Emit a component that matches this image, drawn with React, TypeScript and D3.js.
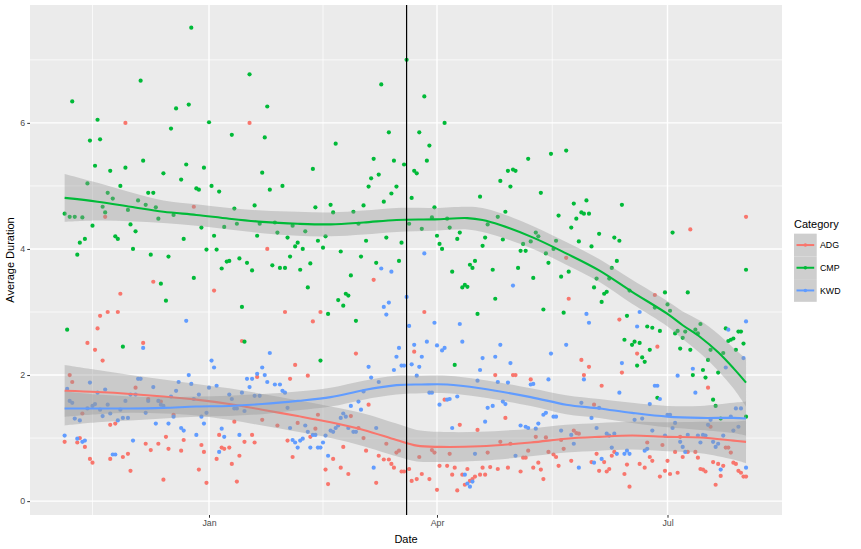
import React, { useEffect, useRef } from "react";
import * as d3 from "d3";

// day 0 = 1 Nov 2016
const baseDate = Date.UTC(2016, 10, 1);
const categories = ["ADG", "CMP", "KWD"];
const colors = ["#F8766D", "#00BA38", "#619CFF"];

// [day since baseDate, average duration]
const adgPoints: [number, number][] = [
  [4,0.94],[6,2.00],[7,1.89],[9,0.93],[10,1.00],[11,1.39],[12,0.86],[13,2.51],[14,0.67],[15,0.61],[16,2.40],[17,2.74],
  [18,2.94],[19,2.23],[20,4.51],[21,3.00],[22,1.21],[22,0.67],[24,1.23],[25,3.00],[26,3.29],[27,0.70],[28,6.00],[29,0.75],
  [30,0.48],[32,1.80],[35,2.51],[36,0.91],[37,1.62],[38,0.81],[39,3.48],[41,0.91],[42,1.58],[43,0.34],[44,1.02],[45,0.83],
  [47,1.37],[50,0.80],[51,0.97],[55,4.67],[57,0.50],[58,0.89],[59,0.78],[60,0.29],[63,3.34],[64,0.67],[65,1.05],[66,0.85],
  [67,0.83],[69,0.85],[70,0.59],[71,1.26],[72,0.31],[73,0.72],[74,2.54],[75,0.94],[77,6.00],[78,1.05],[79,0.93],[80,1.97],
  [82,1.29],[84,4.00],[88,1.20],[91,3.00],[92,0.96],[93,1.94],[94,0.70],[95,2.16],[96,1.24],[100,1.99],[101,1.02],[102,2.85],
  [103,1.15],[104,1.37],[105,3.00],[107,0.50],[108,0.27],[110,0.67],[113,0.53],[114,0.86],[116,0.43],[117,1.35],[119,2.34],
  [120,1.16],[122,1.00],[123,0.80],[124,1.53],[126,3.51],[127,0.29],[128,0.72],[130,0.66],[131,0.91],[132,0.66],[133,0.59],
  [134,0.53],[135,0.77],[136,0.80],[137,0.47],[138,0.47],[140,0.51],[141,0.32],[142,2.37],[143,0.35],[144,0.70],[145,0.43],
  [146,3.00],[148,0.35],[149,0.81],[150,0.77],[151,0.18],[152,0.56],[154,1.61],[155,0.56],[156,0.75],[157,0.42],[158,0.53],
  [159,0.17],[160,1.21],[161,0.42],[162,0.26],[163,0.51],[164,0.32],[165,0.35],[166,0.39],[167,1.13],[168,0.42],[169,0.53],
  [170,0.42],[171,0.77],[172,0.54],[174,2.00],[175,0.51],[176,0.94],[178,1.32],[179,0.53],[180,0.91],[181,2.00],[182,2.00],
  [184,0.47],[185,0.69],[186,0.69],[187,0.80],[188,1.93],[189,0.53],[190,1.02],[191,0.61],[192,0.50],[193,0.35],[194,1.01],
  [195,0.78],[197,0.74],[198,0.70],[199,0.56],[200,0.97],[201,0.83],[202,3.86],[203,3.21],[204,0.64],[205,1.12],[206,1.08],
  [207,1.07],[208,2.24],[209,2.00],[211,2.13],[212,0.62],[213,1.53],[214,0.75],[215,0.48],[216,1.83],[217,0.62],[218,0.47],
  [219,0.51],[220,0.72],[221,0.78],[223,2.88],[224,2.04],[225,0.43],[226,0.58],[227,0.23],[230,2.34],[231,0.59],[233,0.53],
  [234,0.93],[235,0.70],[236,0.64],[237,3.27],[238,2.45],[239,0.39],[240,0.89],[241,0.48],[242,0.64],[243,0.43],[245,0.78],
  [246,0.45],[247,1.02],[248,0.70],[250,0.78],[251,4.31],[253,0.78],[254,0.69],[255,0.51],[256,0.50],[257,0.47],[258,1.80],
  [259,1.18],[260,0.62],[261,0.26],[262,0.59],[263,0.40],[264,0.56],[265,0.85],[266,0.85],[267,0.77],[268,0.61],[269,0.59],
  [270,0.48],[271,0.45],[272,0.39],[273,0.39],[273,4.51],
];

const cmpPoints: [number, number][] = [
  [4,4.56],[5,2.72],[6,4.51],[7,6.34],[8,4.51],[9,3.91],[10,4.10],[11,4.50],[12,4.16],[13,5.04],[14,5.72],[15,4.37],
  [16,5.32],[17,6.05],[18,5.74],[19,4.67],[20,4.58],[21,4.89],[22,5.24],[23,4.80],[24,4.20],[25,4.16],[26,5.00],[27,2.45],
  [28,5.29],[29,4.62],[30,4.39],[31,4.00],[32,4.28],[33,4.77],[34,6.67],[35,5.40],[36,4.70],[37,4.89],[38,3.91],[39,4.89],
  [40,4.66],[41,4.48],[42,3.45],[43,5.20],[44,3.18],[45,3.88],[46,5.91],[47,4.54],[48,6.23],[50,5.10],[51,4.16],[52,5.34],
  [53,6.29],[54,7.51],[55,3.54],[56,4.96],[57,4.94],[58,4.34],[59,5.29],[60,3.99],[61,6.01],[62,5.00],[63,4.21],[64,3.99],
  [65,4.91],[66,3.69],[67,4.35],[68,3.80],[69,3.81],[70,5.81],[71,4.64],[72,4.40],[73,3.85],[74,3.08],[75,2.53],[76,3.78],
  [77,6.77],[78,3.66],[79,4.69],[80,4.21],[81,4.40],[82,5.21],[83,5.77],[84,6.26],[85,4.94],[86,3.74],[87,4.42],[88,4.26],
  [89,3.70],[90,5.00],[91,3.70],[92,4.18],[93,3.88],[94,4.37],[95,4.04],[96,4.10],[97,3.67],[98,4.00],[99,4.28],[100,3.39],
  [101,3.77],[102,5.27],[103,4.66],[104,4.13],[105,2.23],[106,4.02],[107,4.20],[108,2.97],[109,4.70],[110,4.58],[111,5.67],
  [112,3.19],[113,3.96],[114,3.10],[115,3.29],[116,3.26],[117,3.58],[118,4.59],[119,2.86],[120,4.40],[121,3.88],[122,4.69],
  [123,4.13],[124,4.99],[125,5.12],[126,5.43],[127,3.78],[128,5.18],[129,6.61],[130,4.75],[131,4.18],[132,5.85],[133,4.88],
  [134,5.40],[135,4.99],[136,3.81],[137,4.10],[138,5.34],[139,7.00],[140,4.40],[141,4.81],[142,5.24],[143,5.20],[144,5.85],
  [145,4.32],[146,6.42],[147,5.40],[148,5.64],[149,4.50],[150,4.66],[151,4.21],[152,4.08],[153,4.00],[154,6.00],[155,4.48],
  [156,4.34],[157,3.64],[158,2.16],[159,4.16],[160,4.26],[161,3.39],[162,3.43],[163,3.40],[164,3.75],[165,3.70],[166,3.81],
  [167,2.97],[168,4.83],[169,4.05],[170,4.18],[171,4.39],[173,3.67],[174,3.21],[175,4.51],[176,5.08],[177,4.15],[178,4.59],
  [179,5.24],[180,4.99],[181,5.26],[182,5.24],[183,3.70],[184,3.97],[185,4.08],[186,3.97],[187,5.43],[188,4.12],[189,3.54],
  [190,4.26],[191,4.20],[192,4.89],[193,3.04],[194,3.93],[195,3.78],[196,5.51],[197,4.00],[198,4.13],[199,4.53],[200,3.56],
  [201,2.99],[202,5.56],[203,3.64],[204,4.34],[205,4.72],[206,4.48],[207,4.12],[208,4.58],[209,4.56],[210,4.77],[211,4.56],
  [212,4.04],[213,3.39],[214,3.53],[215,4.24],[216,3.16],[217,3.29],[218,3.32],[219,3.53],[220,3.70],[221,4.18],[222,3.81],
  [223,4.13],[224,4.70],[225,2.56],[226,2.94],[227,3.34],[228,2.48],[229,2.53],[230,2.15],[231,2.51],[232,2.28],[233,2.21],
  [234,2.77],[235,2.40],[236,2.75],[237,3.07],[238,1.64],[239,2.70],[241,3.31],[242,3.12],[243,3.02],[244,4.26],[245,2.66],
  [246,2.70],[247,2.42],[248,2.59],[249,2.69],[250,3.31],[251,2.40],[252,2.00],[253,2.72],[254,2.66],[255,2.81],[256,2.08],
  [257,1.96],[258,2.24],[259,2.40],[260,1.61],[261,1.51],[262,2.04],[263,1.31],[264,2.35],[265,2.74],[266,2.54],[267,2.56],
  [268,2.58],[269,2.40],[270,2.69],[271,2.69],[272,2.50],[273,3.67],[273,1.34],
];

const kwdPoints: [number, number][] = [
  [4,1.04],[5,1.78],[6,1.59],[7,1.56],[8,1.31],[9,0.99],[10,1.28],[11,0.94],[12,0.96],[13,1.47],[14,1.88],[15,1.51],
  [16,1.54],[17,1.72],[18,1.45],[19,1.35],[20,1.77],[21,1.53],[22,1.39],[23,0.74],[24,0.74],[25,1.28],[26,1.45],[27,1.32],
  [28,1.59],[29,1.32],[30,1.69],[31,0.96],[32,1.69],[33,1.94],[34,1.94],[35,2.43],[36,1.40],[37,1.59],[39,1.81],[40,1.23],
  [41,1.59],[42,1.53],[43,1.51],[45,1.23],[46,1.66],[47,1.34],[48,1.75],[49,1.89],[50,1.16],[51,1.12],[52,2.86],[53,2.00],
  [54,1.86],[55,1.62],[56,1.05],[57,1.69],[58,1.34],[59,1.23],[60,1.40],[61,1.80],[62,2.23],[63,2.12],[64,1.83],[65,0.78],
  [66,1.15],[67,1.02],[69,1.69],[70,1.62],[71,1.47],[72,1.47],[73,1.05],[74,1.72],[75,1.43],[76,1.94],[77,1.81],[78,1.94],
  [79,1.67],[80,2.02],[81,1.67],[82,2.12],[83,2.00],[84,1.89],[85,2.35],[87,1.85],[89,1.85],[90,1.75],[91,1.72],[92,1.48],
  [93,1.16],[94,0.97],[95,0.93],[96,0.85],[97,0.96],[98,0.99],[99,1.20],[100,1.10],[101,0.85],[102,1.05],[103,1.05],
  [104,0.85],[105,0.85],[106,0.93],[107,1.04],[108,0.72],[109,1.12],[110,1.10],[111,1.16],[112,1.20],[113,1.32],[114,1.39],
  [115,1.34],[116,1.16],[117,1.51],[118,1.10],[119,1.10],[120,1.58],[121,1.45],[122,1.74],[124,2.13],[125,1.96],[126,0.53],
  [127,1.16],[128,1.89],[129,3.69],[130,3.08],[131,2.96],[132,3.15],[133,3.64],[134,2.08],[135,2.29],[136,2.43],[137,2.15],
  [138,2.15],[139,3.24],[140,2.78],[141,2.17],[142,2.48],[143,1.99],[144,2.13],[145,2.29],[146,3.93],[147,2.53],[148,1.72],
  [149,1.72],[150,2.83],[151,2.47],[152,1.53],[153,2.39],[154,2.43],[155,1.61],[156,1.62],[157,1.16],[159,1.66],[160,2.81],
  [161,2.53],[162,0.42],[163,0.28],[164,0.23],[165,0.31],[166,0.75],[167,1.91],[168,2.08],[169,2.27],[170,1.26],[171,1.48],
  [173,1.51],[174,2.29],[175,1.89],[176,2.48],[177,1.58],[178,1.54],[179,1.88],[180,2.19],[181,3.42],[182,0.72],[184,1.20],
  [186,1.18],[187,1.16],[188,1.85],[189,1.86],[190,1.15],[191,1.23],[193,1.37],[194,1.40],[195,1.93],[196,2.34],[197,1.34],
  [198,1.34],[200,1.12],[202,2.48],[204,1.05],[205,0.91],[207,0.53],[208,1.56],[209,1.93],[210,2.97],[211,2.83],[212,1.32],
  [213,0.61],[214,1.16],[215,1.48],[216,0.67],[218,1.07],[219,1.04],[220,0.85],[221,1.07],[222,0.75],[223,1.72],[224,2.19],
  [225,0.75],[226,0.80],[227,0.75],[229,1.29],[230,2.77],[231,3.00],[232,1.31],[233,0.80],[234,0.83],[235,1.54],[236,1.12],
  [237,1.83],[238,1.83],[239,1.62],[241,1.04],[242,1.37],[243,1.37],[244,1.16],[245,1.24],[246,1.99],[247,0.94],[248,0.86],
  [249,0.78],[250,1.05],[252,2.10],[253,1.72],[254,1.04],[255,0.93],[256,1.05],[257,1.04],[258,1.21],[259,1.29],[260,0.94],
  [261,0.86],[262,0.91],[263,0.50],[264,1.04],[265,2.12],[266,2.72],[267,1.34],[268,1.12],[269,1.47],[270,1.18],[271,1.47],
  [272,2.27],[273,2.85],[273,0.53],
];

// loess fit: [day, fit, half width of the band]
const adgSmooth: [number, number, number][] = [
  [4,1.75,0.41],[17,1.73,0.35],[30,1.70,0.30],[43,1.66,0.27],[56,1.61,0.25],[69,1.54,0.25],[82,1.45,0.25],[96,1.35,0.25],
  [109,1.25,0.25],[122,1.13,0.26],[135,0.97,0.26],[143,0.88,0.25],[152,0.86,0.24],[168,0.87,0.23],[188,0.93,0.22],
  [202,0.99,0.22],[215,1.02,0.22],[228,1.04,0.22],[242,1.02,0.23],[255,1.01,0.25],[268,0.96,0.30],[273,0.94,0.34],
];
const cmpSmooth: [number, number, number][] = [
  [4,4.81,0.38],[17,4.75,0.30],[30,4.67,0.23],[43,4.59,0.18],[56,4.54,0.17],[69,4.48,0.17],[82,4.43,0.18],[96,4.40,0.19],
  [109,4.39,0.19],[122,4.42,0.19],[135,4.46,0.19],[150,4.47,0.18],[163,4.49,0.18],[169,4.46,0.19],[176,4.38,0.19],
  [189,4.18,0.18],[202,3.93,0.18],[215,3.66,0.18],[228,3.32,0.19],[242,2.97,0.20],[248,2.79,0.22],[255,2.60,0.26],
  [262,2.36,0.29],[268,2.11,0.32],[273,1.88,0.38],
];
const kwdSmooth: [number, number, number][] = [
  [4,1.47,0.27],[17,1.47,0.22],[30,1.47,0.19],[43,1.48,0.17],[56,1.50,0.16],[69,1.51,0.16],[82,1.54,0.16],[96,1.59,0.15],
  [109,1.65,0.15],[122,1.76,0.15],[135,1.84,0.15],[145,1.85,0.14],[155,1.85,0.14],[168,1.79,0.14],[188,1.65,0.14],
  [202,1.53,0.15],[215,1.47,0.15],[228,1.40,0.16],[242,1.34,0.17],[255,1.32,0.19],[268,1.32,0.24],[273,1.31,0.27],
];

const xBreaks = ["2016-10-01", "2017-01-01", "2017-04-01", "2017-07-01", "2017-10-01"];
const xTickLabels = ["Jan", "Apr", "Jul"];
const yTicks = [0, 2, 4, 6];
const yMinor = [1, 3, 5, 7];
const markerDate = "2017-03-20";
const xDomainDays = [-9.67, 287.2];
const yDomain = [-0.22, 7.87];

const FONT = "'Liberation Sans', Arial, Helvetica, sans-serif";

export default function App() {
  const ref = useRef<SVGSVGElement>(null);

  useEffect(() => {
    const svg = d3.select(ref.current);
    svg.selectAll("*").remove();

    const panel = { left: 30, right: 782, top: 5, bottom: 515 };
    const toDate = (d: number) => new Date(baseDate + d * 864e5);
    const parse = (s: string) => new Date(s + "T00:00:00Z");

    const x = d3.scaleUtc().domain(xDomainDays.map(toDate)).range([panel.left, panel.right]);
    const y = d3.scaleLinear().domain(yDomain).range([panel.bottom, panel.top]);

    // panel background
    svg.append("rect")
      .attr("x", panel.left).attr("y", panel.top)
      .attr("width", panel.right - panel.left).attr("height", panel.bottom - panel.top)
      .attr("fill", "#EBEBEB");

    const breakDates = xBreaks.map(parse);
    const inDomain = (d: Date) => d >= x.domain()[0] && d <= x.domain()[1];
    const xMajor = breakDates.filter(inDomain);
    const xMinor = d3.pairs(breakDates).map(([a, b]) => new Date((+a + +b) / 2)).filter(inDomain);

    const grid = svg.append("g").attr("stroke", "#FFFFFF");
    // minor grid
    grid.selectAll(".ymin").data(yMinor).enter().append("line")
      .attr("x1", panel.left).attr("x2", panel.right)
      .attr("y1", d => y(d)).attr("y2", d => y(d)).attr("stroke-width", 0.7);
    grid.selectAll(".xmin").data(xMinor).enter().append("line")
      .attr("y1", panel.top).attr("y2", panel.bottom)
      .attr("x1", d => x(d)).attr("x2", d => x(d)).attr("stroke-width", 0.7);
    // major grid
    grid.selectAll(".ymaj").data(yTicks).enter().append("line")
      .attr("x1", panel.left).attr("x2", panel.right)
      .attr("y1", d => y(d)).attr("y2", d => y(d)).attr("stroke-width", 1.4);
    grid.selectAll(".xmaj").data(xMajor).enter().append("line")
      .attr("y1", panel.top).attr("y2", panel.bottom)
      .attr("x1", d => x(d)).attr("x2", d => x(d)).attr("stroke-width", 1.4);

    // points
    const pointSets = [adgPoints, cmpPoints, kwdPoints];
    pointSets.forEach((pts, i) => {
      svg.append("g").selectAll("circle").data(pts).enter().append("circle")
        .attr("cx", d => x(toDate(d[0])))
        .attr("cy", d => y(d[1]))
        .attr("r", 2.1)
        .attr("fill", colors[i]);
    });

    // smooths: ribbon then line, one group after the other
    const smoothSets = [adgSmooth, cmpSmooth, kwdSmooth];
    const band = d3.area<[number, number, number]>()
      .x(d => x(toDate(d[0])))
      .y0(d => y(d[1] - d[2]))
      .y1(d => y(d[1] + d[2]))
      .curve(d3.curveCatmullRom.alpha(0.5));
    const fit = d3.line<[number, number, number]>()
      .x(d => x(toDate(d[0])))
      .y(d => y(d[1]))
      .curve(d3.curveCatmullRom.alpha(0.5));
    smoothSets.forEach((s, i) => {
      svg.append("path").datum(s).attr("d", band).attr("fill", "#999999").attr("fill-opacity", 0.4);
      svg.append("path").datum(s).attr("d", fit).attr("fill", "none")
        .attr("stroke", colors[i]).attr("stroke-width", 2.1);
    });

    // vertical marker
    const mx = x(parse(markerDate));
    svg.append("line")
      .attr("x1", mx).attr("x2", mx).attr("y1", panel.top).attr("y2", panel.bottom)
      .attr("stroke", "#000000").attr("stroke-width", 1.2);

    // axes
    const yAxis = svg.append("g")
      .attr("transform", `translate(${panel.left},0)`)
      .call(d3.axisLeft(y).tickValues(yTicks).tickSize(2.75).tickPadding(2.2).tickFormat(d3.format("d")));
    const xAxis = svg.append("g")
      .attr("transform", `translate(0,${panel.bottom})`)
      .call(d3.axisBottom(x).tickValues(xMajor).tickSize(2.75).tickPadding(2.2)
        .tickFormat((_d, i) => xTickLabels[i]));
    [yAxis, xAxis].forEach(a => {
      a.select(".domain").remove();
      a.attr("font-family", FONT).attr("font-size", 8.8);
      a.selectAll("line").attr("stroke", "#333333").attr("stroke-width", 1);
      a.selectAll("text").attr("fill", "#4D4D4D");
    });

    // titles
    svg.append("text")
      .attr("x", (panel.left + panel.right) / 2).attr("y", 543)
      .attr("text-anchor", "middle").attr("font-family", FONT).attr("font-size", 11)
      .text("Date");
    svg.append("text")
      .attr("transform", `translate(14,${(panel.top + panel.bottom) / 2}) rotate(-90)`)
      .attr("text-anchor", "middle").attr("font-family", FONT).attr("font-size", 11)
      .text("Average Duration");

    // legend
    const legend = svg.append("g").attr("transform", "translate(794,228)");
    legend.append("text").attr("x", 0).attr("y", 0)
      .attr("font-family", FONT).attr("font-size", 11).text("Category");
    const keyW = 22.7, keyH = 22.7, keyTop = 5.7;
    categories.forEach((c, i) => {
      const ky = keyTop + i * keyH;
      legend.append("rect").attr("x", 0).attr("y", ky).attr("width", keyW).attr("height", keyH)
        .attr("fill", "#F2F2F2");
      legend.append("rect").attr("x", 0).attr("y", ky).attr("width", keyW).attr("height", keyH)
        .attr("fill", "#999999").attr("fill-opacity", 0.4);
      legend.append("line")
        .attr("x1", 2.5).attr("x2", keyW - 2.5)
        .attr("y1", ky + keyH / 2).attr("y2", ky + keyH / 2)
        .attr("stroke", colors[i]).attr("stroke-width", 2);
      legend.append("circle").attr("cx", keyW / 2).attr("cy", ky + keyH / 2).attr("r", 1.8)
        .attr("fill", colors[i]);
      legend.append("text")
        .attr("x", 26).attr("y", ky + keyH / 2).attr("dy", "0.35em")
        .attr("font-family", FONT).attr("font-size", 8.8).text(c);
    });
  }, []);

  return (
    <svg
      ref={ref}
      width={861}
      height={549}
      style={{ position: "absolute", left: 0, top: 0, background: "#FFFFFF", display: "block" }}
    />
  );
}
